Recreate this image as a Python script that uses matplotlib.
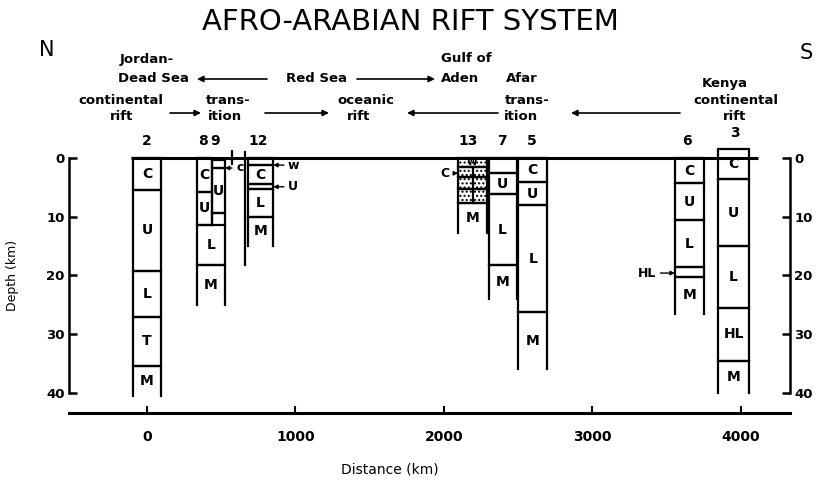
import matplotlib
matplotlib.use('Agg')
import matplotlib.pyplot as plt
from matplotlib.patches import Rectangle

plt.rcParams['font.family'] = ['DejaVu Sans']
plt.rcParams['font.weight'] = 'bold'

# ---------------- data ----------------
# profile numbers and where their number is written (distance km)
profile_numbers = ['2', '8', '9', '12', '13', '7', '5', '6', '3']
profile_number_x = [0, 377, 458, 747, 2162, 2390, 2593, 3636, 3960]
profile_number_y = [-1.7, -1.7, -1.7, -1.7, -1.7, -1.7, -1.7, -1.7, -3.1]

# layers: label, top depth, bottom depth, left distance, right distance, open bottom
layer_label = ['C', 'U', 'L', 'T', 'M',
               'C', 'U',
               '', 'U', '',
               'L', 'M',
               '', 'C', '', 'L', 'M',
               'W', '', '', '', 'M',
               '', 'U', 'L', 'M',
               'C', 'U', 'L', 'M',
               'C', 'U', 'L', '', 'M',
               'C', 'U', 'L', 'HL', 'M']
layer_top = [0, 5.4, 19.2, 27.0, 35.4,
             0, 5.8,
             0.3, 1.7, 9.4,
             11.4, 18.3,
             0, 1.2, 4.5, 5.3, 10.0,
             0, 1.5, 3.2, 5.2, 7.7,
             0, 2.5, 6.2, 18.2,
             0, 4.1, 8.0, 26.3,
             0, 4.3, 10.6, 18.6, 20.3,
             -1.5, 3.6, 15.0, 25.6, 34.5]
layer_bottom = [5.4, 19.2, 27.0, 35.4, 40.5,
                5.8, 11.4,
                1.7, 9.4, 11.4,
                18.3, 25.0,
                1.2, 4.5, 5.3, 10.0, 15.0,
                1.5, 3.2, 5.2, 7.7, 12.8,
                2.5, 6.2, 18.2, 24.0,
                4.1, 8.0, 26.3, 35.9,
                4.3, 10.6, 18.6, 20.3, 26.5,
                3.6, 15.0, 25.6, 34.5, 40.0]
layer_left = [-95, -95, -95, -95, -95,
              335, 335,
              440, 440, 440,
              335, 335,
              680, 680, 680, 680, 680,
              2095, 2095, 2095, 2095, 2095,
              2300, 2300, 2300, 2300,
              2500, 2500, 2500, 2500,
              3555, 3555, 3555, 3555, 3555,
              3845, 3845, 3845, 3845, 3845]
layer_right = [95, 95, 95, 95, 95,
               440, 440,
               525, 525, 525,
               525, 525,
               850, 850, 850, 850, 850,
               2290, 2290, 2290, 2290, 2290,
               2490, 2490, 2490, 2490,
               2695, 2695, 2695, 2695,
               3750, 3750, 3750, 3750, 3750,
               4055, 4055, 4055, 4055, 4055]
layer_open = [False, False, False, False, True,
              False, False,
              False, False, True,
              False, True,
              False, False, False, False, True,
              False, False, False, False, True,
              False, False, False, True,
              False, False, False, True,
              False, False, False, False, True,
              False, False, False, False, True]
layer_hatch = [None] * 17 + ['....', '....', '....', '....', None] + [None] * 18

# extra vertical lines (distance, top, bottom)
extra_x = [660, 2195, 572]
extra_top = [-1.0, 1.5, -1.2]
extra_bottom = [18.3, 7.7, 1.0]

# labels written beside thin layers: text, x, y (km), arrow target x
side_text = ['c', 'w', 'U', 'C', 'HL']
side_x = [600, 950, 950, 2035, 3430]
side_y = [1.7, 1.2, 4.9, 2.6, 19.6]
side_target = [525, 850, 850, 2095, 3555]

zero_line_x = [-108, 4114]

depth_ticks = [0, 10, 20, 30, 40]
dist_ticks = [0, 1000, 2000, 3000, 4000]

# ---------------- figure ----------------
W, H = 816, 486
fig = plt.figure(figsize=(W / 100, H / 100), dpi=100)


def fx(px):
    return px / W


def fy(py):
    return 1 - py / H


ax = fig.add_axes([fx(69), fy(413), (790 - 69) / W, (413 - 140) / H])
ax.set_xlim(-525, 4330)
ax.set_ylim(43.44, -3.07)

LW = 1.6

# zero line
ax.plot(zero_line_x, [0, 0], color='k', lw=2.2, solid_capstyle='butt')

for lab, t, b, l, r, op, ht in zip(layer_label, layer_top, layer_bottom,
                                   layer_left, layer_right, layer_open, layer_hatch):
    if op:
        ax.plot([l, l, r, r], [b, t, t, b], color='k', lw=LW,
                solid_joinstyle='miter')
    else:
        ax.add_patch(Rectangle((l, t), r - l, b - t, fill=False, lw=LW,
                               ec='k', hatch=ht))
    if lab:
        fs = 7 if lab == 'W' else 10
        ax.text((l + r) / 2, (t + b) / 2, lab, ha='center', va='center',
                fontsize=fs)

for x, t, b in zip(extra_x, extra_top, extra_bottom):
    ax.plot([x, x], [t, b], color='k', lw=LW)

for s, x, y, tx in zip(side_text, side_x, side_y, side_target):
    ha = 'left' if x > tx else 'right'
    ax.annotate(s, xy=(tx, y), xytext=(x, y), ha=ha, va='center', fontsize=9,
                arrowprops=dict(arrowstyle='-|>', lw=1.0, color='k',
                                mutation_scale=6, shrinkA=1, shrinkB=0))

for n, x, y in zip(profile_numbers, profile_number_x, profile_number_y):
    ax.text(x, y, n, ha='center', va='bottom', fontsize=10)

# axes styling
ax.spines['top'].set_visible(False)
ax.spines['left'].set_bounds(0, 40)
ax.spines['right'].set_bounds(0, 40)
ax.spines['left'].set_linewidth(1.8)
ax.spines['right'].set_linewidth(1.8)
ax.spines['bottom'].set_linewidth(2.2)
ax.set_yticks(depth_ticks)
ax.set_yticklabels([str(v) for v in depth_ticks])
ax.tick_params(axis='y', direction='in', length=6, width=1.8, left=True,
               right=True, labelleft=True, labelright=True, labelsize=9.5,
               pad=3)
ax.set_xticks(dist_ticks)
ax.set_xticklabels([str(v) for v in dist_ticks])
ax.tick_params(axis='x', direction='in', length=5, width=1.5, labelsize=10,
               pad=12)
ax.set_ylabel('Depth (km)', fontsize=9)
ax.yaxis.set_label_coords(-0.069, 0.505)
ax.set_xlabel('Distance (km)', fontsize=10)
ax.xaxis.set_label_coords(0.445, -0.183)

# ---------------- header ----------------
fig.text(fx(410), fy(22), 'AFRO-ARABIAN RIFT SYSTEM', ha='center',
         va='center', fontsize=21, fontweight='normal')
fig.text(fx(47), fy(50), 'N', ha='center', va='center', fontsize=15,
         fontweight='normal')
fig.text(fx(806), fy(53), 'S', ha='center', va='center', fontsize=15,
         fontweight='normal')

hdr = [('Jordan-', 147, 60), ('Dead Sea', 153, 78), ('Red Sea', 317, 79),
       ('Gulf of', 466, 58), ('Aden', 460, 79),
       ('continental', 121, 100), ('rift', 122, 117),
       ('trans-', 228, 100), ('ition', 225, 117),
       ('oceanic', 366, 100), ('rift', 359, 117),
       ('Afar', 522, 79), ('trans-', 527, 100), ('ition', 521, 117),
       ('Kenya', 725, 84), ('continental', 736, 100), ('rift', 735, 117)]
for s, x, y in hdr:
    fig.text(fx(x), fy(y), s, ha='center', va='center', fontsize=9.5)

arrows = [(267, 197, 79), (357, 435, 79), (170, 201, 113), (265, 329, 113),
          (498, 407, 113), (680, 571, 113)]
for x1, x2, y in arrows:
    ax.annotate('', xy=(fx(x2), fy(y)), xytext=(fx(x1), fy(y)),
                xycoords='figure fraction', textcoords='figure fraction',
                annotation_clip=False,
                arrowprops=dict(arrowstyle='-|>', lw=1.2, color='k',
                                mutation_scale=9, shrinkA=0, shrinkB=0))

fig.savefig('out.png', dpi=100)
